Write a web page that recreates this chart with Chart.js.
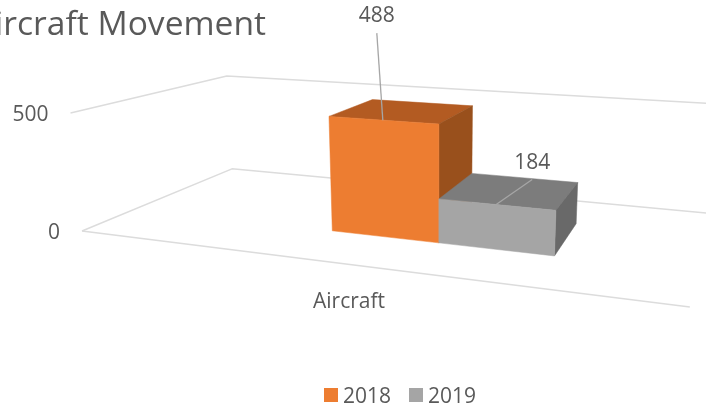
<!DOCTYPE html>
<html>
<head>
<meta charset="utf-8">
<style>html,body{margin:0;padding:0;background:#fff}#w{width:706px;height:409px;overflow:hidden}</style>
<script src="https://cdn.jsdelivr.net/npm/chart.js@4"></script>
</head>
<body>
<div id="w"><canvas id="c" width="706" height="409"></canvas></div>
<script>
const categories = ['Aircraft'];
const years = ['2018', '2019'];
const values2018 = [488];
const values2019 = [184];
const yMax = 500;
const titleText = 'Aircraft Movement';

const frontColors = ['#ED7D31', '#A5A5A5'];
const topColors = ['#B35B22', '#7C7C7C'];
const sideColors = ['#99501C', '#696969'];
const textColor = '#595959';
const gridColor = '#DCDCDC';
const leaderColor = '#A6A6A6';

// Camera of the 3D box: vanishing points and their weights.
const VX = [-2300, -67], VY = [439, 3900], VZ = [760, -50], ORG = [82, 231];
const WX = -0.2033, WY = -0.03116, WZ = 0.284;
const DEPTH_FRONT = 0.305, DEPTH_BACK = 0.69, X_SHIFT = 0.091;
// Offsets of data labels and leader ends from the front-top-centre of each bar.
const LABEL_OFF = [[-6, -106], [36, -43]];
const LEADER_OFF = [[-6, -87], [36, -25]];

function project(t, v, z) {
  const h = WX * t + WY * v + WZ * z + 1;
  return [
    (WX * t * VX[0] + WY * v * VY[0] + WZ * z * VZ[0] + ORG[0]) / h,
    (WX * t * VX[1] + WY * v * VY[1] + WZ * z * VZ[1] + ORG[1]) / h
  ];
}
function poly(ctx, pts, col) {
  ctx.beginPath();
  pts.forEach((p, i) => i ? ctx.lineTo(p[0], p[1]) : ctx.moveTo(p[0], p[1]));
  ctx.closePath();
  ctx.fillStyle = col; ctx.fill();
  ctx.strokeStyle = col; ctx.lineWidth = 0.5; ctx.stroke();
}
function path(ctx, pts, col, w) {
  ctx.beginPath();
  pts.forEach((p, i) => i ? ctx.lineTo(p[0], p[1]) : ctx.moveTo(p[0], p[1]));
  ctx.strokeStyle = col; ctx.lineWidth = w; ctx.stroke();
}
function label(ctx, s, x, y, size, align) {
  ctx.font = size + 'px "Open Sans"';
  ctx.fillStyle = textColor;
  ctx.textAlign = align || 'center';
  ctx.textBaseline = 'middle';
  ctx.fillText(s, x, y + 2);
}

const perspective3D = {
  id: 'perspective3D',
  beforeDatasetsDraw(chart) {
    const ctx = chart.ctx, ya = chart.scales.y, xa = chart.scales.x, area = chart.chartArea;
    const vOf = px => (ya.bottom - px) / (ya.bottom - ya.top);
    const tOf = px => (px - area.left) / area.width;
    ctx.save();
    ctx.lineJoin = 'round';

    // walls and floor grid
    ya.ticks.forEach(tk => {
      const v = vOf(ya.getPixelForValue(tk.value));
      const start = project(0, v, 0);
      path(ctx, [start, project(0, v, 1), project(1, v, 1)], gridColor, 1.5);
      label(ctx, tk.label, start[0] - 22, start[1] + 0.5, 21, 'right');
    });
    path(ctx, [project(0, 0, 0), project(1, 0, 0)], gridColor, 1.5);

    // category label
    xa.ticks.forEach((tk, i) => {
      const p = project(tOf(xa.getPixelForTick(i)), 0, 0);
      label(ctx, tk.label, p[0] - 2.5, p[1] + 35.5, 21);
    });

    // bars
    const anchors = [];
    chart.data.datasets.forEach((ds, di) => {
      chart.getDatasetMeta(di).data.forEach(bar => {
        const t0 = tOf(bar.x - bar.width / 2) + X_SHIFT;
        const t1 = tOf(bar.x + bar.width / 2) + X_SHIFT;
        const v0 = vOf(bar.base), v1 = vOf(bar.y);
        const zf = DEPTH_FRONT, zb = DEPTH_BACK;
        poly(ctx, [project(t0, v1, zf), project(t1, v1, zf), project(t1, v1, zb), project(t0, v1, zb)], topColors[di]);
        poly(ctx, [project(t1, v0, zf), project(t1, v1, zf), project(t1, v1, zb), project(t1, v0, zb)], sideColors[di]);
        poly(ctx, [project(t0, v0, zf), project(t1, v0, zf), project(t1, v1, zf), project(t0, v1, zf)], frontColors[di]);
        anchors.push({ p: project((t0 + t1) / 2, v1, zf), di, val: ds.data[0] });
      });
    });

    // leaders and data labels
    anchors.forEach(a => {
      const lo = LEADER_OFF[a.di], to = LABEL_OFF[a.di];
      path(ctx, [a.p, [a.p[0] + lo[0], a.p[1] + lo[1]]], leaderColor, 1.3);
      label(ctx, String(a.val), a.p[0] + to[0], a.p[1] + to[1], 21);
    });

    // title (runs off the left edge, as in the source picture)
    label(ctx, titleText, 266, 23, 33.6, 'right');

    // legend
    let lx = 324;
    chart.data.datasets.forEach((ds, di) => {
      ctx.fillStyle = ds.backgroundColor;
      ctx.fillRect(lx, 388, 14, 14);
      label(ctx, ds.label, lx + 19, 395, 21, 'left');
      lx += 85;
    });
    ctx.restore();
    return false;
  }
};

new Chart(document.getElementById('c'), {
  type: 'bar',
  data: {
    labels: categories,
    datasets: [
      { label: years[0], data: values2018, backgroundColor: frontColors[0], categoryPercentage: 0.385, barPercentage: 1 },
      { label: years[1], data: values2019, backgroundColor: frontColors[1], categoryPercentage: 0.385, barPercentage: 1 }
    ]
  },
  options: {
    responsive: false,
    animation: false,
    layout: { padding: 40 },
    plugins: { legend: { display: false }, title: { display: false }, tooltip: { enabled: false } },
    scales: {
      x: { display: false, type: 'category' },
      y: { display: false, min: 0, max: yMax, ticks: { stepSize: yMax } }
    }
  },
  plugins: [perspective3D]
});
</script>
</body>
</html>
